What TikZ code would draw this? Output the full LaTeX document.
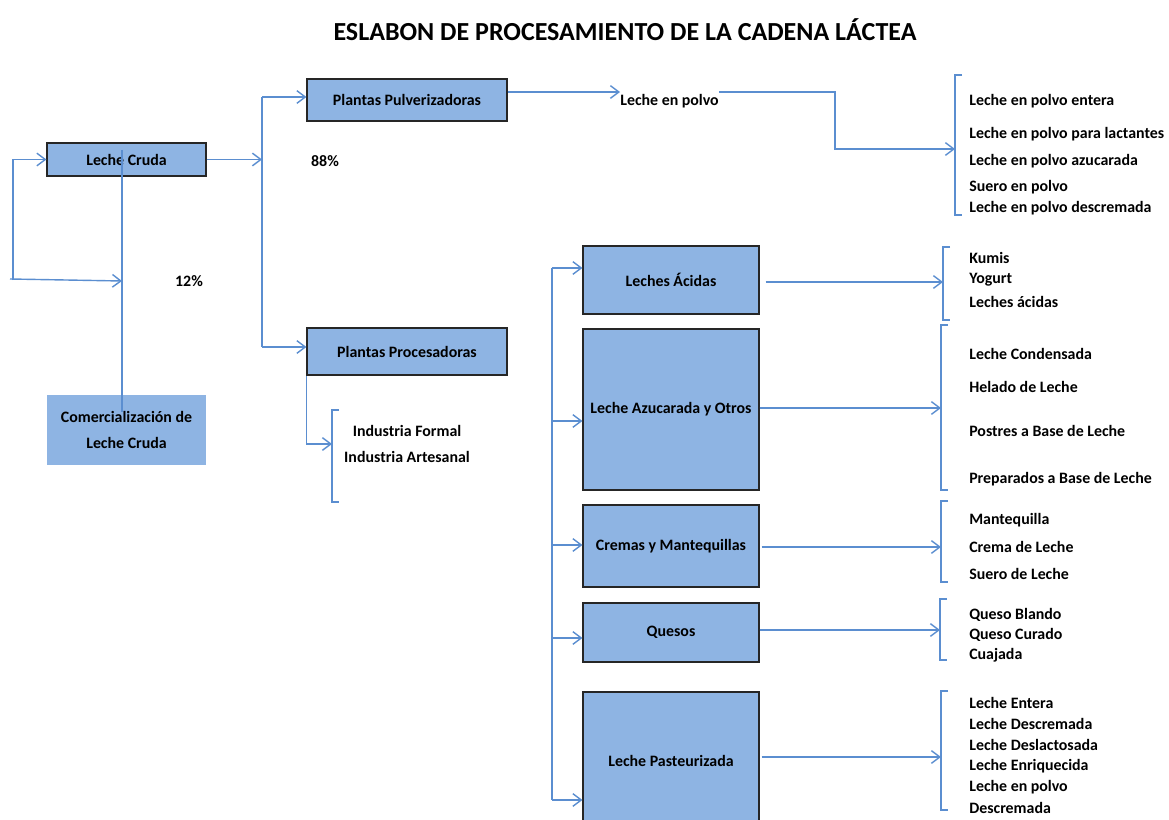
\documentclass[tikz,border=0pt]{standalone}
\usepackage{fontspec}
\setmainfont{Carlito}
\usepackage{xcolor}
\definecolor{celeste}{HTML}{8EB4E3}
\definecolor{azul}{HTML}{5B8ED0}
\definecolor{borde}{HTML}{262626}
\usepackage{tikz}
\usetikzlibrary{arrows.meta, positioning, calc}

\newcommand{\px}{0.025cm}
% corchete: nombre, x, arriba, abajo
\newcommand{\corchete}[4]{%
  \draw[linea] (#2+7,#3) -- (#2,#3) -- (#2,#4) -- (#2+7,#4);
  \coordinate (#1) at (#2,#3);
}

\begin{document}
\begin{tikzpicture}[
  x=\px, y=-\px,
  every node/.style={font=\bfseries\fontsize{11.3}{13}\selectfont, inner sep=0pt},
  caja/.style 2 args={draw=borde, line width=0.8pt, fill=celeste,
    minimum width=#1*\px, minimum height=#2*\px},
  linea/.style={draw=azul, line width=1pt},
  flecha/.style={linea, -{Straight Barb[length=6pt, width=9pt]}},
  item/.style={anchor=west}
]
\useasboundingbox (0,0) rectangle (1169,820);
\clip (0,0) rectangle (1169,820);

% Titulo
\node (titulo) at (625,30) {\fontsize{18.5}{22}\selectfont ESLABON DE PROCESAMIENTO DE LA CADENA LÁCTEA};

% Cajas
\node[caja={159}{33}] (cruda) at (126.5,159.5) {Leche Cruda};
\node[caja={159}{70}, draw=none, align=center, font=\bfseries\fontsize{11.3}{18.5}\selectfont]
  (comerc) at (126.5,430) {Comercialización de\\Leche Cruda};
\node[caja={200}{42}] (pulver) at (407,100) {Plantas Pulverizadoras};
\node[caja={200}{47}] (proces) at (407,351.5) {Plantas Procesadoras};
\node[caja={176}{68}] (acidas) at (671,280) {Leches Ácidas};
\node[caja={176}{161}] (azuc) at (671,409.5) {Leche Azucarada y Otros};
\node[caja={176}{82}] (cremas) at (671,546) {Cremas y Mantequillas};
\node[caja={176}{59}] (quesos) at (671,632.5) {Quesos};
\node[caja={176}{138}, label={[name=tpaste]center:Leche Pasteurizada}] (paste) at (671,761) {};

% Textos sueltos
\node[anchor=west] (polvo) at (620,101) {Leche en polvo};
\node (p88) at (325,161) {88\%};
\node (p12) at (189,281) {12\%};
\node[align=center, font=\bfseries\fontsize{11.3}{18.5}\selectfont] (ind) at (407,444)
  {Industria Formal\\Industria Artesanal};

% Leche cruda: lazo y comercializacion
\coordinate (lazo) at (13,280);
\coordinate (cruce) at (122,281);
\draw[linea] (122,150) -- (122,412);
\draw[flecha] (lazo) |- (cruda.west);
\draw[flecha] (10,279) -- (cruce);

% Reparto a plantas
\coordinate (ramaA) at (262,97);
\coordinate (ramaB) at (262,347);
\draw[flecha] (cruda.east) -- (cruda.east -| ramaA);
\draw[linea] (ramaA) -- (ramaB);
\draw[flecha] (ramaA) -- (pulver.west |- ramaA);
\draw[flecha] (ramaB) -- (proces.west |- ramaB);

% Leche en polvo
\corchete{c-polvo}{955}{75}{215}
\draw[flecha] (pulver.east |- 0,92) -- (polvo.west |- 0,92);
\draw[flecha] (polvo.east |- 0,92) -- (835,92) |- (c-polvo |- 0,149);
\foreach \t/\y [count=\i] in {Leche en polvo entera/101, Leche en polvo para lactantes/134,
    Leche en polvo azucarada/161, Suero en polvo/187, Leche en polvo descremada/208}
  \node[item] (polvo-\i) at (969,\y) {\t};

% Industrias
\corchete{c-ind}{332}{410}{502}
\draw[flecha] (proces.south west) |- (c-ind |- ind);

% Tronco de productos
\draw[linea] (552,268) -- (552,800);
\foreach \n/\y in {acidas/268, azuc/421, cremas/545, quesos/638, paste/800}
  \draw[flecha] (552,\y) -- (\n.west |- 0,\y);

% Corchetes de productos
\corchete{c-acidas}{943}{247}{320}
\corchete{c-azuc}{941}{325}{490}
\corchete{c-cremas}{941}{501}{582}
\corchete{c-quesos}{940}{599}{660}
\corchete{c-paste}{941}{691}{810}
\draw[flecha, shorten <=0.15cm] (acidas.east |- 0,282) -- (c-acidas |- 0,282);
\draw[flecha] (azuc.east |- 0,408) -- (c-azuc |- 0,408);
\draw[flecha, shorten <=0.05cm] (cremas.east |- 0,547) -- (c-cremas |- 0,547);
\draw[flecha] (quesos.east |- 0,630) -- (c-quesos |- 0,630);
\draw[flecha, shorten <=0.05cm] (paste.east |- 0,757) -- (c-paste |- 0,757);

% Listas de productos
\foreach \t/\y [count=\i] in {Kumis/258, Yogurt/280, Leches ácidas/302}
  \node[item] (acidas-\i) at (969,\y) {\t};
\foreach \t/\y [count=\i] in {Leche Condensada/354, Helado de Leche/387,
    Postres a Base de Leche/431, Preparados a Base de Leche/479}
  \node[item] (azuc-\i) at (969,\y) {\t};
\foreach \t/\y [count=\i] in {Mantequilla/520, Crema de Leche/547, Suero de Leche/574}
  \node[item] (cremas-\i) at (969,\y) {\t};
\foreach \t/\y [count=\i] in {Queso Blando/615, Queso Curado/635, Cuajada/655}
  \node[item] (quesos-\i) at (969,\y) {\t};
\foreach \t/\y [count=\i] in {Leche Entera/703, Leche Descremada/724, Leche Deslactosada/745,
    Leche Enriquecida/766, Leche en polvo/787, Descremada/808}
  \node[item] (paste-\i) at (969,\y) {\t};

\end{tikzpicture}
\end{document}
